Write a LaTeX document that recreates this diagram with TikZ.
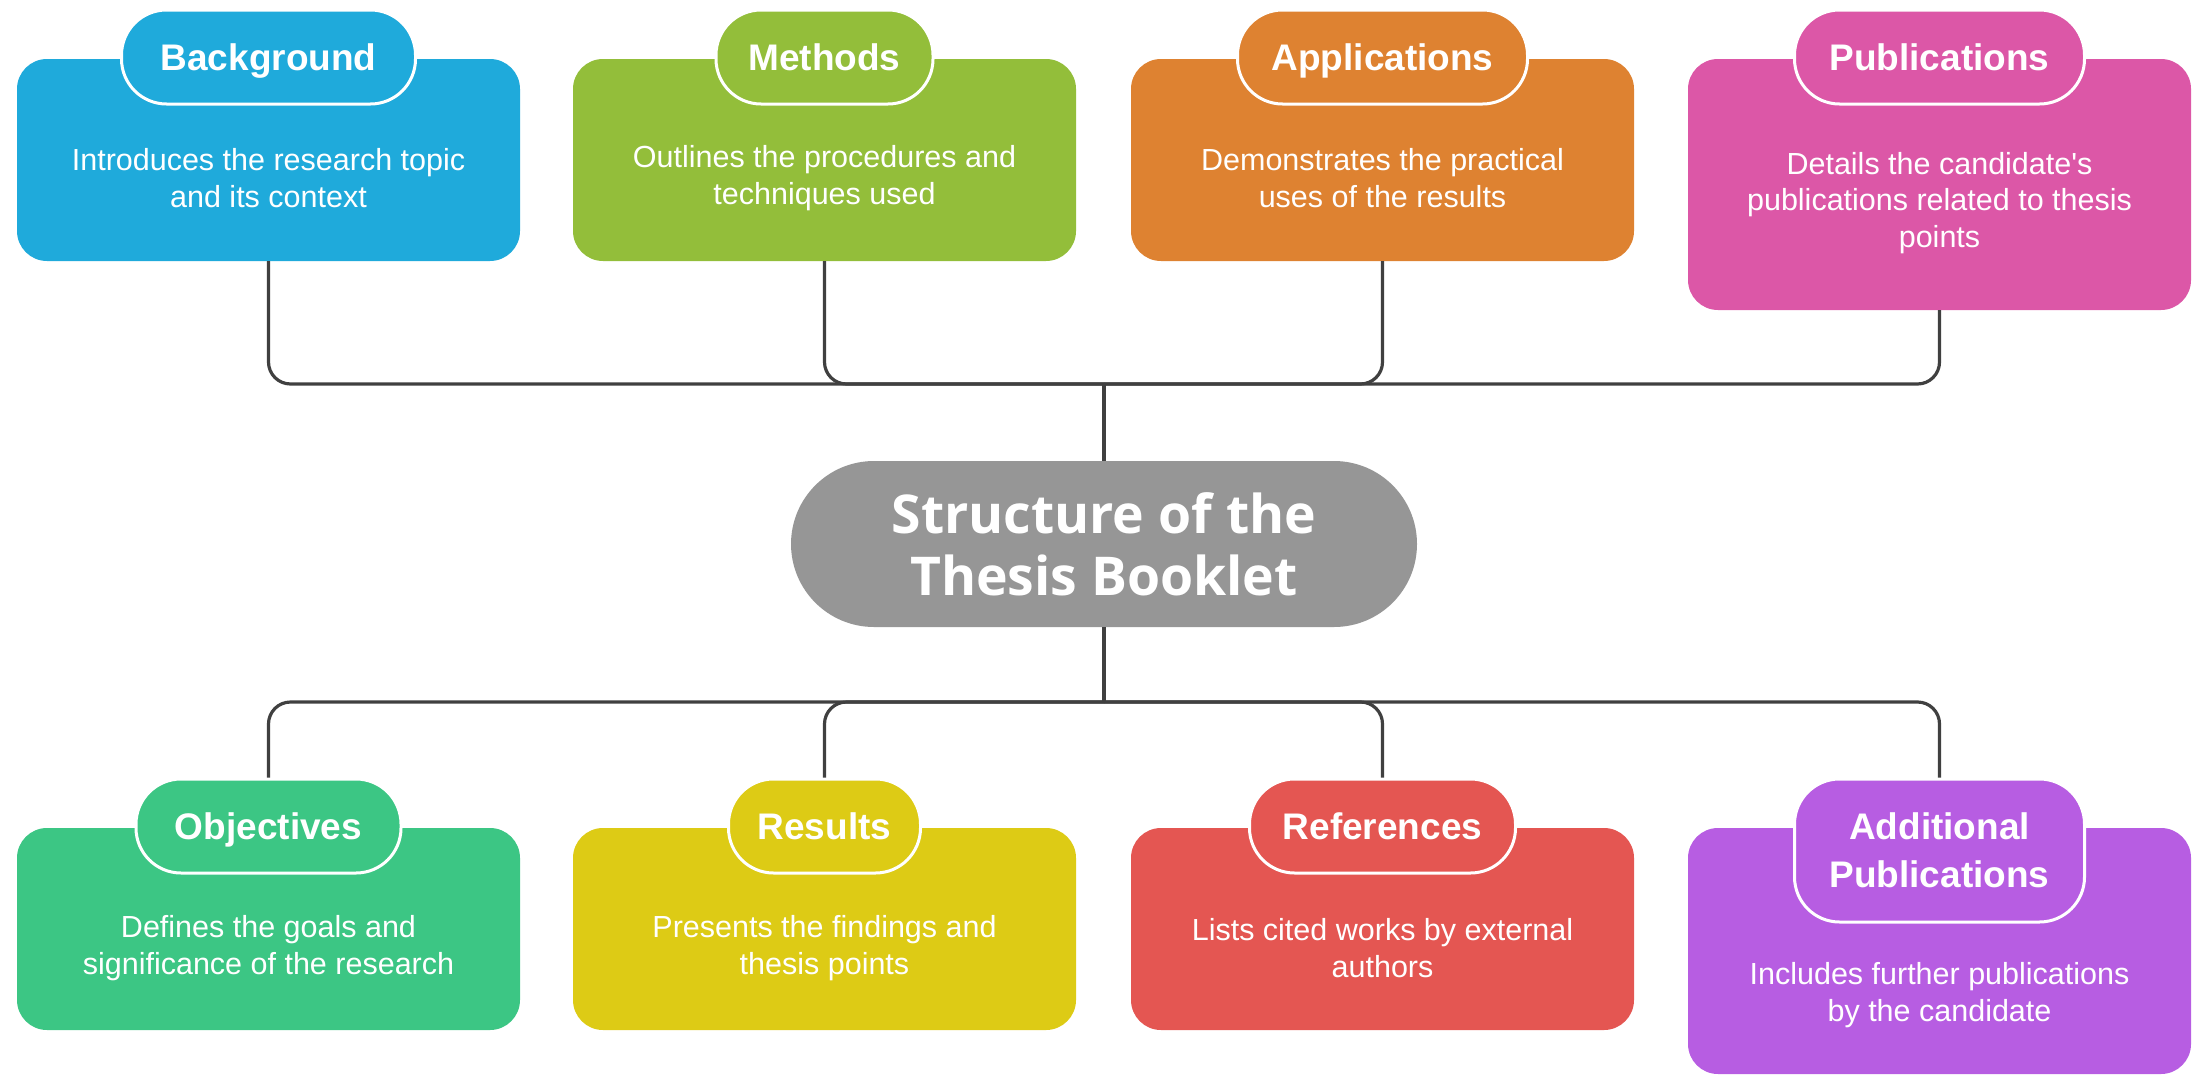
\documentclass[tikz,border=0pt]{standalone}
\usepackage{fontspec}
\setmainfont{Liberation Sans}
\newfontfamily\headfont{Open Sans}
\usepackage{xcolor}
\definecolor{cblue}{HTML}{1FAADB}
\definecolor{cgreen}{HTML}{93BE3A}
\definecolor{corange}{HTML}{DE8231}
\definecolor{cpink}{HTML}{DC57A7}
\definecolor{cteal}{HTML}{3CC684}
\definecolor{cyellow}{HTML}{DDCB15}
\definecolor{cred}{HTML}{E45652}
\definecolor{cpurple}{HTML}{B75DE2}
\definecolor{cgray}{HTML}{969696}
\definecolor{linegray}{HTML}{404040}
\tikzset{
  box/.style={rounded corners=30pt, minimum width=503pt, inner sep=0pt},
  pill/.style={rounded corners=45pt, draw=white, line width=3pt, text=white, inner sep=0pt,
    minimum height=94pt, align=center, text height=27pt, text depth=1pt,
    font=\bfseries\fontsize{37}{48}\selectfont},
  desc/.style={text=white, align=center, inner sep=0pt, font=\fontsize{30.5}{36.5}\selectfont},
  conn/.style={draw=linegray, line width=3.2pt, rounded corners=22pt}
}

\begin{document}
\begin{tikzpicture}[x=1pt,y=-1pt]
\useasboundingbox (0,0) rectangle (2198,1076);

\node (bg) at ( 268.5,160) [box,fill=cblue,minimum height=202pt] {};
\node (me) at ( 824.5,160) [box,fill=cgreen,minimum height=202pt] {};
\node (ap) at (1382.5,160) [box,fill=corange,minimum height=202pt] {};
\node (pu) at (1939.5,184.5) [box,fill=cpink,minimum height=251pt] {};
\node (bgt) at ( 268.5,57) [pill,fill=cblue,minimum width=294pt] {Background};
\node (met) at ( 824.5,57) [pill,fill=cgreen,minimum width=217pt] {Methods};
\node (apt) at (1382.5,57) [pill,fill=corange,minimum width=290pt] {Applications};
\node (put) at (1939.5,57) [pill,fill=cpink,minimum width=290pt] {Publications};
\node (bgd) at ( 268.5,178) [desc] {Introduces the research topic\\and its context};
\node (med) at ( 824.5,178) [desc] {Outlines the procedures and\\techniques used};
\node (apd) at (1382.5,178) [desc] {Demonstrates the practical\\uses of the results};
\node (pud) at (1939.5,203) [desc] {Details the candidate\textquotesingle s\\publications related to thesis\\points};

\node (ctr) at (1104,544) [fill=cgray,rounded corners=83pt,minimum width=626pt,minimum height=166pt,
  inner sep=0pt,text=white,align=center,font=\headfont\bfseries\fontsize{53.5}{62}\selectfont]
  {Structure of the\\Thesis Booklet};

\node (ob) at ( 268.5,929) [box,fill=cteal,minimum height=202pt] {};
\node (re) at ( 824.5,929) [box,fill=cyellow,minimum height=202pt] {};
\node (rf) at (1382.5,929) [box,fill=cred,minimum height=202pt] {};
\node (ad) at (1939.5,951) [box,fill=cpurple,minimum height=246pt] {};
\node (obt) at ( 268.5,826) [pill,fill=cteal,minimum width=265pt] {Objectives};
\node (ret) at ( 824.5,826) [pill,fill=cyellow,minimum width=192pt] {Results};
\node (rft) at (1382.5,826) [pill,fill=cred,minimum width=266pt] {References};
\node (adt) at (1939.5,850.5) [pill,fill=cpurple,minimum width=290pt,minimum height=143pt,
  text height=,text depth=] {Additional\\Publications};
\node (obd) at ( 268.5,948) [desc] {Defines the goals and\\significance of the research};
\node (red) at ( 824.5,948) [desc] {Presents the findings and\\thesis points};
\node (rfd) at (1382.5,948) [desc] {Lists cited works by external\\authors};
\node (add) at (1939.5,995) [desc] {Includes further publications\\by the candidate};

\coordinate (tj) at (1104,384);
\coordinate (bj) at (1104,702);
\draw[conn] (bg.south) |- (tj);
\draw[conn] (me.south) |- (tj);
\draw[conn] (ap.south) |- (tj);
\draw[conn] (pu.south) |- (tj);
\draw[conn] (tj) -- (ctr.north);
\draw[conn] (ctr.south) -- (bj);
\draw[conn] (bj) -| (obt.north);
\draw[conn] (bj) -| (ret.north);
\draw[conn] (bj) -| (rft.north);
\draw[conn] (bj) -| (adt.north);
\end{tikzpicture}
\end{document}
